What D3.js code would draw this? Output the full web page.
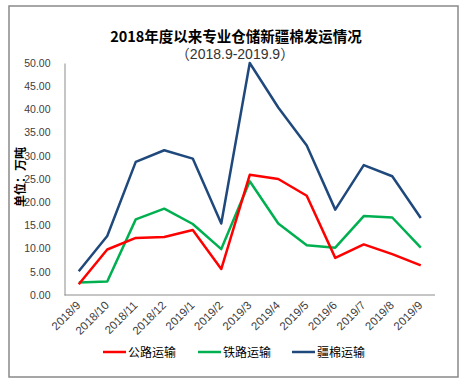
<!DOCTYPE html>
<html><head><meta charset="utf-8">
<script src="https://cdn.jsdelivr.net/npm/d3@7"></script>
<style>body{margin:0;background:#fff}svg{display:block}</style>
</head><body>
<script>
const categories = ["2018/9","2018/10","2018/11","2018/12","2019/1","2019/2","2019/3","2019/4","2019/5","2019/6","2019/7","2019/8","2019/9"];
const roadValues = [2.3,9.8,12.3,12.5,14.0,5.6,25.9,25.0,21.4,8.0,10.9,8.8,6.4];
const railValues = [2.7,2.9,16.3,18.6,15.3,9.9,24.5,15.4,10.7,10.2,17.0,16.7,10.2];
const totalValues = [5.1,12.7,28.7,31.2,29.4,15.4,50.0,40.4,32.2,18.4,28.0,25.6,16.6];
const seriesNames = ["公路运输","铁路运输","疆棉运输"];
const yTicks = [0,5,10,15,20,25,30,35,40,45,50];
const titleText = "2018年度以来专业仓储新疆棉发运情况";
const subtitleText = "（2018.9-2019.9）";
const yLabel = "单位：万吨";

(function(){
const W = 464, H = 382;
const font = "'Liberation Sans','Noto Sans CJK SC',sans-serif";
const cjk = "'Noto Sans CJK SC','Liberation Sans',sans-serif";
const svg = d3.select("body").append("svg").attr("width", W).attr("height", H);

svg.append("rect").attr("x",9).attr("y",6).attr("width",449).attr("height",371)
  .attr("fill","#fff").attr("stroke","#898989").attr("stroke-width",1.5);

const pl = 64.5, pr = 435, pt = 63, pb = 295;
const x = d3.scalePoint().domain(categories).range([pl, pr]).padding(0.5);
const y = d3.scaleLinear().domain([0,50]).range([pb, pt]);

const yAxis = svg.append("g").attr("transform",`translate(${pl},0)`)
  .call(d3.axisLeft(y).tickValues(yTicks).tickFormat(d3.format(".2f")).tickSize(0).tickPadding(14));
yAxis.select(".domain").attr("stroke","#8c8c8c").attr("stroke-width",1);
yAxis.selectAll("text").attr("font-family",font).attr("font-size",10.5).attr("fill","#404040");

const xAxis = svg.append("g").attr("transform",`translate(0,${pb})`)
  .call(d3.axisBottom(x).tickSize(0).tickPadding(0));
xAxis.select(".domain").attr("stroke","#8c8c8c").attr("stroke-width",1).attr("d",`M${pl},0H${pr}`);
xAxis.selectAll("text").attr("font-family",font).attr("font-size",11.5).attr("fill","#404040")
  .attr("text-anchor","end").attr("dy",0).attr("y",0)
  .attr("transform","translate(2,11) rotate(-45)");

const line = d3.line().x((d,i)=>x(categories[i])).y(d=>y(d));
const series = [
  {name: seriesNames[0], values: roadValues, color: "#FF0000"},
  {name: seriesNames[1], values: railValues, color: "#00B050"},
  {name: seriesNames[2], values: totalValues, color: "#1F497D"}
];
[series[2], series[1], series[0]].forEach(s => {
  svg.append("path").datum(s.values).attr("d", line)
    .attr("fill","none").attr("stroke", s.color).attr("stroke-width",2.5)
    .attr("stroke-linejoin","round");
});

svg.append("text").attr("x",236).attr("y",42).attr("text-anchor","middle")
  .attr("font-family",cjk).attr("font-size",14.5).attr("font-weight","bold").attr("fill","#000")
  .text(titleText);
svg.append("text").attr("x",235).attr("y",59).attr("text-anchor","middle")
  .attr("font-family",font).attr("font-size",14).attr("fill","#333")
  .text(subtitleText);

svg.append("text").attr("transform","translate(25,177) rotate(-90)").attr("text-anchor","middle")
  .attr("font-family",cjk).attr("font-size",12).attr("font-weight","bold").attr("fill","#000")
  .text(yLabel);

const legX = [103, 198, 292];
series.forEach((s,i) => {
  const g = svg.append("g").attr("transform",`translate(${legX[i]},352)`);
  g.append("line").attr("x1",0).attr("x2",23).attr("y1",0).attr("y2",0)
    .attr("stroke",s.color).attr("stroke-width",2.5);
  g.append("text").attr("x",25).attr("y",4.5).attr("font-family",cjk).attr("font-size",12)
    .attr("fill","#000").text(s.name);
});
})();
</script>
</body></html>
